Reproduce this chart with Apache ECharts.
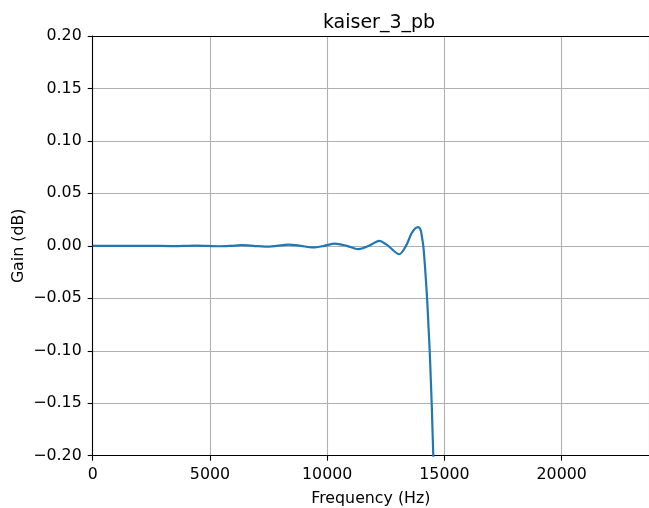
<!DOCTYPE html>
<html>
<head>
<meta charset="utf-8">
<script src="https://cdn.jsdelivr.net/npm/echarts@6/dist/echarts.min.js"></script>
<style>html,body{margin:0;padding:0;background:#fff}#c{width:649px;height:508px}</style>
</head>
<body>
<div id="c"></div>
<script>
const title = "kaiser_3_pb";
const xLabel = "Frequency (Hz)";
const yLabel = "Gain (dB)";
const freq = [0, 400, 1400, 2400, 3400, 4400, 5400, 5900, 6350, 6850, 7350, 7850, 8340, 8870, 9400, 9870, 10330, 10830, 11330, 11780, 12220, 12600, 13075, 13360, 13600, 13750, 13870, 13987, 14043, 14098, 14141, 14183, 14226, 14269, 14320, 14371, 14414, 14456, 14490, 14524, 14567];
const gain = [0, 0.0001, -0.0001, 0.0001, -0.0002, 0.0003, -0.0004, 0, 0.0006, 0, -0.0008, 0, 0.0012, 0, -0.0015, 0, 0.0022, 0, -0.0032, 0, 0.0048, 0, -0.0080, 0, 0.012, 0.0165, 0.0178, 0.015, 0.008, 0, -0.011, -0.024, -0.038, -0.054, -0.077, -0.10, -0.125, -0.15, -0.175, -0.20, -0.235];
const xTicks = [0, 5000, 10000, 15000, 20000];
const yTicks = [-0.20, -0.15, -0.10, -0.05, 0.00, 0.05, 0.10, 0.15, 0.20];
const xMax = 23723; // visible right edge of the (cropped) axis

const FONT = "DejaVu Sans";
const chart = echarts.init(document.getElementById('c'), null, {renderer: 'canvas'});
const data = freq.map((f, i) => [f, gain[i]]);
const spine = {color: '#000', width: 1.1};
chart.setOption({
  animation: false,
  backgroundColor: '#ffffff',
  title: {
    text: title, left: 374, top: 9, textAlign: 'center',
    textStyle: {fontFamily: FONT, fontSize: 19, fontWeight: 'normal', color: '#000'}
  },
  grid: {left: 92.7, top: 36, right: 0, bottom: 52.3, containLabel: false, outerBoundsMode: 'none'},
  xAxis: [{
    type: 'value', min: 0, max: xMax, interval: 5000,
    name: xLabel, nameLocation: 'middle', nameGap: 35,
    nameTextStyle: {fontFamily: FONT, fontSize: 15.8, color: '#000'},
    axisLine: {show: true, onZero: false, lineStyle: spine},
    axisTick: {show: true, length: 5, lineStyle: spine},
    axisLabel: {fontFamily: FONT, fontSize: 15.8, color: '#000', margin: 11, showMaxLabel: false,
      formatter: v => xTicks.includes(v) ? String(v) : ''},
    splitLine: {show: true, lineStyle: {color: '#b0b0b0', width: 1.1}}
  }, {
    type: 'value', position: 'top', min: 0, max: xMax,
    axisLine: {show: true, onZero: false, lineStyle: spine},
    axisTick: {show: false}, axisLabel: {show: false}, splitLine: {show: false}
  }],
  yAxis: {
    type: 'value', min: -0.2, max: 0.2, interval: 0.05,
    name: yLabel, nameLocation: 'middle', nameGap: 66, nameRotate: 90, nameMoveOverlap: false,
    nameTextStyle: {fontFamily: FONT, fontSize: 15.8, color: '#000'},
    axisLine: {show: true, onZero: false, lineStyle: spine},
    axisTick: {show: true, length: 5, lineStyle: spine},
    axisLabel: {fontFamily: FONT, fontSize: 15.8, color: '#000', margin: 11,
      formatter: v => {
        const t = yTicks.find(y => Math.abs(y - v) < 1e-9);
        if (t === undefined) return '';
        return (t < -1e-9 ? '\u2212' : '') + Math.abs(t).toFixed(2);
      }},
    splitLine: {show: true, lineStyle: {color: '#b0b0b0', width: 1.1}}
  },
  series: [{
    type: 'line', xAxisIndex: 0, data: data, showSymbol: false, smooth: 0.3, clip: true,
    lineStyle: {color: '#1f77b4', width: 2.2}
  }]
});
</script>
</body>
</html>
